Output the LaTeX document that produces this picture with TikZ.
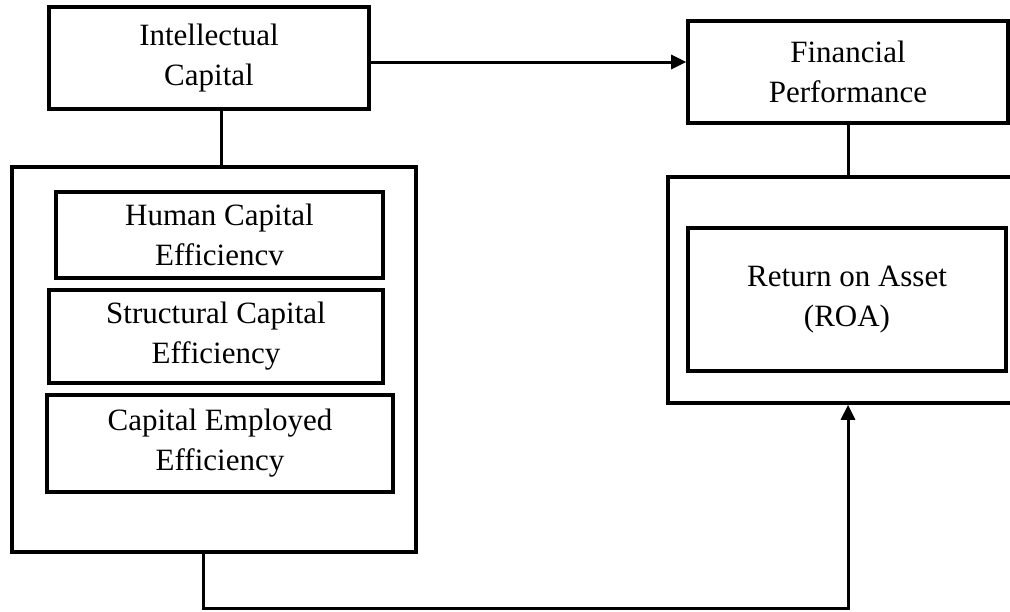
\documentclass[tikz,border=0pt]{standalone}
\usepackage{fontspec}
\setmainfont{Liberation Serif}
\usepackage{tikz}
\usetikzlibrary{calc,arrows.meta,positioning}

\begin{document}
\begin{tikzpicture}[x=0.5pt, y=-0.5pt, every node/.style={font=\fontsize{15.5}{20}\selectfont},
    box/.style={draw, line width=1.8pt, align=center, inner sep=0pt},
    link/.style={line width=1.5pt},
    arrow/.style={line width=1.5pt, -{Triangle[length=7.5pt,width=7pt]}}]
      \useasboundingbox (0,0) rectangle (1010,611);
      \clip (0,0) rectangle (1010,611);
      \node[box, minimum width=160pt, minimum height=51pt] (ic) at (209,58) {Intellectual\\Capital};
      \node[box, minimum width=160pt, minimum height=51pt] (fp) at (848,72) {Financial\\Performance};
      \node[box, minimum width=202pt, minimum height=192.5pt] (icset) at (214,359.5) {};
      \node[box, minimum width=163.5pt, minimum height=43pt] (hce) at (219.5,235) {Human Capital\\Efficiencv};
      \node[box, minimum width=167pt, minimum height=46.5pt] (sce) at (216,336.5) {Structural Capital\\Efficiency};
      \node[box, minimum width=173pt, minimum height=48.5pt] (cee) at (220,443.5) {Capital Employed\\Efficiency};
      \node[box, minimum width=180pt, minimum height=113pt] (roaset) at (848,290) {};
      \node[box, minimum width=159pt, minimum height=71.5pt] (roa) at (847,299.5) {Return on Asset\\(ROA)};
      \draw[link] ([xshift=6pt]ic.south) -- ([xshift=6pt]ic.south |- icset.north);
      \draw[link] (fp.south) -- (roaset.north);
      \draw[arrow] ([yshift=-2pt]ic.east) -- ([yshift=-2pt]ic.east -| fp.west);
      \draw[arrow] ([xshift=-5.5pt]icset.south) -- ++(0,55) -| (roaset.south);
    \end{tikzpicture}
\end{document}
